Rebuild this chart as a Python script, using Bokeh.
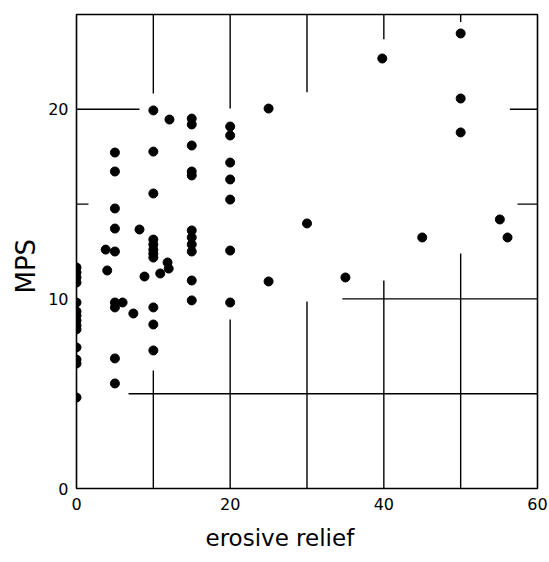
from bokeh.plotting import figure
from bokeh.models import FixedTicker, ColumnDataSource, Title
from bokeh.embed import file_html
from bokeh.resources import INLINE

# ---- data ----
erosive_relief = [
    0, 0, 0, 0, 0, 0, 0, 0, 0, 0, 0, 0, 0, 0,
    3.8, 4.0,
    5, 5, 5, 5, 5, 5, 5, 5, 5,
    6.0, 7.4, 8.2, 8.85,
    10, 10, 10, 10, 10, 10, 10, 10, 10, 10, 10,
    10.9, 11.85, 12.0, 12.1,
    15, 15, 15, 15, 15, 15, 15, 15, 15, 15, 15,
    20, 20, 20, 20, 20, 20, 20,
    25, 25, 30, 35, 39.8, 45, 50, 50, 50, 55.1, 56.1,
]
mps = [
    11.66, 11.39, 11.13, 10.86, 9.81, 9.34, 9.12, 8.86, 8.60, 8.39, 7.44, 6.80, 6.59, 4.80,
    12.6, 11.5,
    17.72, 16.72, 14.77, 13.71, 12.5, 9.81, 9.55, 6.86, 5.54,
    9.81, 9.23, 13.66, 11.18,
    19.94, 17.77, 15.56, 13.13, 12.87, 12.6, 12.39, 12.18, 9.55, 8.65, 7.28,
    11.34, 11.92, 11.6, 19.46,
    19.51, 19.2, 18.09, 16.72, 16.51, 13.61, 13.24, 12.87, 12.5, 10.97, 9.92,
    19.09, 18.62, 17.19, 16.3, 15.24, 12.55, 9.81,
    20.04, 10.92, 13.98, 11.13, 22.68, 13.24, 24.0, 20.57, 18.78, 14.19, 13.24,
]
x_ticks = [0, 20, 40, 60]
y_ticks = [0, 10, 20]
x_title = "erosive relief"
y_title = "MPS"

FONT = "DejaVu Sans"

p = figure(width=548, height=561, output_backend="svg", toolbar_location=None,
           x_range=(0, 60), y_range=(0, 25),
           min_border_left=76, min_border_right=11, min_border_top=14, min_border_bottom=73)
p.background_fill_color = "white"
p.border_fill_color = "white"
p.outline_line_color = "black"
p.outline_line_width = 1.6
p.xgrid.visible = False
p.ygrid.visible = False

# partial reference lines (decoration of the original figure)
gx0 = [10, 20, 30, 40, 50, 10, 20, 30, 40, 50, 0, 56.4, 0, 57.4, 34.6, 6.77]
gx1 = [10, 20, 30, 40, 50, 10, 20, 30, 40, 50, 8.2, 60, 1.56, 60, 60, 60]
gy0 = [25, 25, 25, 25, 25, 0, 0, 0, 0, 0, 20, 20, 15, 15, 10, 5]
gy1 = [20.83, 20.04, 20.9, 23.7, 24.6, 6.22, 8.91, 9.86, 10.97, 12.39, 20, 20, 15, 15, 10, 5]
p.segment(x0=gx0, y0=gy0, x1=gx1, y1=gy1, line_color="black", line_width=1.4)

src = ColumnDataSource(data=dict(x=erosive_relief, y=mps))
p.scatter("x", "y", source=src, size=9, fill_color="black", line_color="black")

for ax in (p.xaxis[0], p.yaxis[0]):
    ax.axis_line_color = None
    ax.major_tick_line_color = None
    ax.minor_tick_line_color = None
    ax.major_tick_out = 0
    ax.major_tick_in = 0
    ax.minor_tick_out = 0
    ax.minor_tick_in = 0
    ax.major_label_text_font = FONT
    ax.major_label_text_font_size = "16px"
    ax.major_label_text_color = "black"

p.xaxis.ticker = FixedTicker(ticks=x_ticks)
p.yaxis.ticker = FixedTicker(ticks=y_ticks)
p.xaxis.major_label_standoff = 9
p.yaxis.major_label_standoff = 8

# axis titles placed as in the original (off-centre)
p.add_layout(Title(text=x_title, align="left", offset=129, text_font=FONT,
                   text_font_size="23px", text_font_style="normal", text_color="black",
                   standoff=20), "below")
p.add_layout(Title(text=y_title, align="left", offset=195, text_font=FONT,
                   text_font_size="26px", text_font_style="normal", text_color="black",
                   standoff=10), "left")

open("out.html", "w").write(file_html(p, INLINE))
